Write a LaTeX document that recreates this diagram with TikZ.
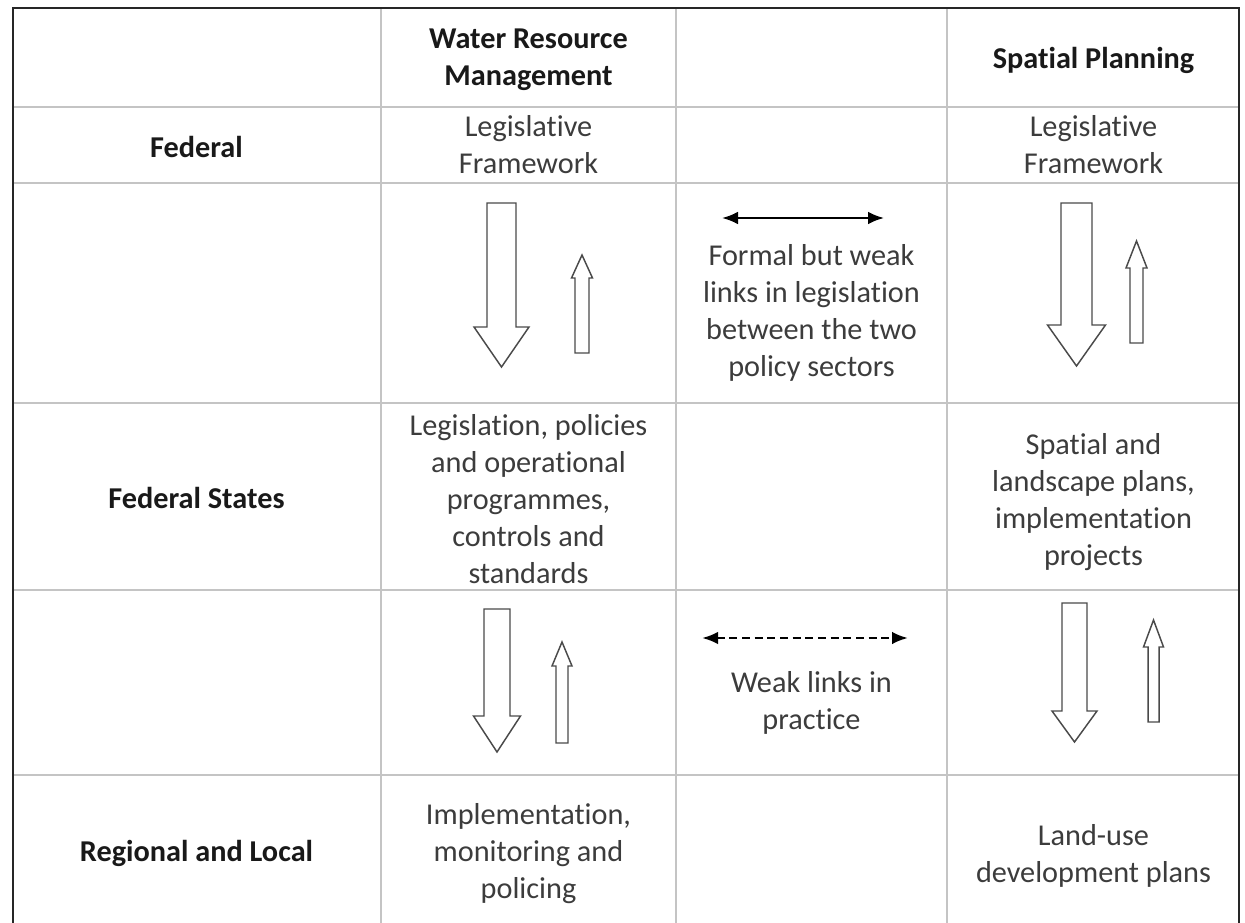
\documentclass[tikz,border=0pt]{standalone}
\usepackage{fontspec}
\setmainfont{Carlito}[Ligatures=NoCommon]
\usetikzlibrary{arrows.meta}
\definecolor{gridgray}{HTML}{C4C4C4}
\definecolor{bodytext}{HTML}{3C3C3C}
\definecolor{arrowline}{HTML}{4A4A4A}
\newcommand{\blockarr}[6]{% cx, base end, head base, tip, shaft half-width, head half-width
  \draw[blockarrow] ({#1-#5},#2) -- ({#1+#5},#2) -- ({#1+#5},#3) -- ({#1+#6},#3) -- (#1,#4) -- ({#1-#6},#3) -- ({#1-#5},#3) -- cycle;}
\tikzset{
  gridline/.style={draw=gridgray, line width=1.1pt},
  frameline/.style={draw=black!85, line width=2pt},
  headtext/.style={font=\fontsize{22.7}{27.75}\selectfont\bfseries, text=black!90, align=center, inner sep=0pt},
  celltext/.style={font=\fontsize{22.7}{27.75}\selectfont, text=bodytext, align=center, inner sep=0pt},
  blockarrow/.style={draw=arrowline, line width=1.1pt, fill=white, line join=miter},
  linkarrow/.style={draw=black, line width=1.6pt, {Latex[length=12pt,width=9.5pt]}-{Latex[length=12pt,width=9.5pt]}},
  weakarrow/.style={linkarrow, line width=2pt, dash pattern=on 6pt off 3.5pt}
}
\begin{document}
\begin{tikzpicture}[x=0.75pt, y=-0.75pt]
\useasboundingbox (0,0) rectangle (1245,923);
\clip (0,0) rectangle (1245,923);
\fill[white] (0,0) rectangle (1245,923);
% inner grid
\foreach \yy in {107,183,403,590,775} \draw[gridline] (13,\yy) -- (1239,\yy);
\foreach \xx in {381,676,947} \draw[gridline] (\xx,8) -- (\xx,930);
% outer frame (bottom edge lies below the picture)
\draw[frameline] (13,935) -- (13,8) -- (1239,8) -- (1239,935);
% headers
\node[headtext] (wrmH) at (528.5,60) {Water Resource\\Management};
\node[headtext] (spH) at (1093.5,60) {Spatial Planning};
% row labels
\node[headtext] (fed) at (196.5,147) {Federal};
\node[headtext] (fs) at (196.5,498) {Federal States};
\node[headtext] (rl) at (196.5,853) {Regional and Local};
% cell texts
\node[celltext] (wrmFed) at (528.5,145) {Legislative\\Framework};
\node[celltext] (spFed) at (1093.5,145) {Legislative\\Framework};
\node[celltext] (formal) at (811.5,313) {Formal but weak\\links in legislation\\between the two\\policy sectors};
\node[celltext] (wrmFS) at (528.5,499) {Legislation, policies\\and operational\\programmes,\\controls and\\standards};
\node[celltext] (spFS) at (1093.5,502) {Spatial and\\landscape plans,\\implementation\\projects};
\node[celltext] (weak) at (811.5,703) {Weak links in\\practice};
\node[celltext] (wrmRL) at (528.5,854) {Implementation,\\monitoring and\\policing};
\node[celltext] (spRL) at (1093.5,856) {Land-use\\development plans};
% block arrows, federal to federal states
\blockarr{501.5}{203}{327}{367}{14.5}{27.5}
\blockarr{582}{353}{278}{255}{7}{10.5}
\blockarr{1076.5}{203}{325}{366}{15.5}{29}
\blockarr{1136.5}{343}{268}{241}{6.5}{10.5}
% block arrows, federal states to regional and local
\blockarr{497}{609}{716}{752}{13}{23.5}
\blockarr{562}{743}{666}{642}{6}{10}
\blockarr{1074.5}{603}{711}{742}{12.5}{22.5}
\blockarr{1153.5}{722}{647}{620}{5.5}{10}
% links between the two sectors
\coordinate (l1a) at (722,218);
\coordinate (l1b) at (884,218);
\coordinate (l2a) at (702,638);
\coordinate (l2b) at (908,638);
\draw[linkarrow] (l1a) -- (l1b);
\draw[weakarrow] (l2a) -- (l2b);
\end{tikzpicture}
\end{document}
